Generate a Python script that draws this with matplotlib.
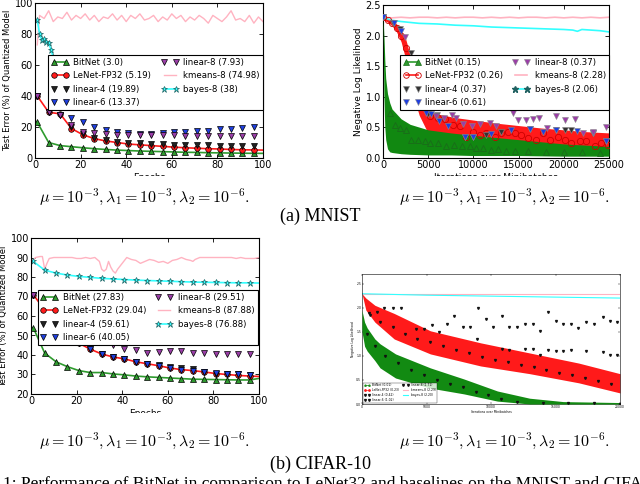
import matplotlib

matplotlib.use("Agg")
import matplotlib.pyplot as plt
from matplotlib.patches import Rectangle

# ---------------- MNIST, test error vs epochs ----------------
mn_epochs = [1, 6, 11, 16, 21, 26, 31, 36, 41, 46, 51, 56, 61, 66, 71, 76, 81, 86, 91, 96, 100]
mn_bitnet = [23, 10, 8, 7.3, 6.6, 6, 5.5, 5.1, 4.8, 4.5, 4.3, 4.1, 3.9, 3.7, 3.6, 3.4, 3.3, 3.2, 3.1, 3.0, 3.0]
mn_lenet = [40, 29.5, 28.5, 19, 15, 12.5, 11, 10, 9, 8.5, 8, 7.5, 7, 6.6, 6.3, 6, 5.8, 5.5, 5.3, 5.2, 5.1]
mn_lin4 = [40, 30, 28, 20, 15.5, 13, 11.5, 10.5, 10, 9.5, 9, 9, 8.5, 8.5, 8.5, 8.5, 8, 8, 8, 8]
mn_lin6 = [40, 30, 28, 25.5, 23, 20, 18, 16.5, 16, 15.8, 15.5, 16, 16.8, 17, 17.5, 17.5, 18.5, 18.5, 19.5, 20.3]
mn_lin8 = [40, 30, 28, 21, 17, 16, 15.5, 15, 15, 15, 14.8, 14.8, 14.8, 14.5, 14.5, 14.5, 14.5, 14.2, 14, 14]
mn_bayes_ep = [1, 2, 3, 4, 5, 6, 7, 8, 9, 11, 16, 21, 26, 31, 41, 51, 61, 71, 81, 86, 91, 96, 100]
mn_bayes = [89, 80, 76, 77, 75, 74, 70, 65, 62, 58, 50, 45, 42, 40, 38, 37, 36, 35.5, 35, 34, 33.5, 33, 33]
mn_km_ep = [1, 2, 4, 6, 8, 10, 12, 14, 16, 18, 20, 22, 24, 26, 28, 30, 32, 34, 36, 38, 40, 42, 44, 46, 48,
            50, 52, 54, 56, 58, 60, 62, 64, 66, 68, 70, 72, 74, 76, 78, 80, 82, 84, 86, 88, 90, 92, 94, 96, 98, 100]
mn_km = [73, 92, 90, 95, 88, 91, 90, 94, 89, 92, 90, 93, 89, 92, 88, 91, 90, 93, 89, 92, 88, 92, 90, 93, 89,
         90, 92, 88, 91, 89, 93, 90, 92, 88, 91, 89, 92, 90, 87, 92, 90, 88, 91, 95, 89, 90, 88, 92, 87, 91, 88]
mn_labels = ["BitNet (3.0)", "LeNet-FP32 (5.19)", "linear-4 (19.89)", "linear-6 (13.37)",
             "linear-8 (7.93)", "kmeans-8 (74.98)", "bayes-8 (38)"]

# ---------------- MNIST, NLL vs iterations ----------------
nl_red_it = [0, 500, 1000, 1500, 2000, 2500, 3000, 3500, 4000, 5000, 6000, 8000, 10000, 12500, 15000, 17500, 20000, 22500, 25000]
nl_red_hi = [2.32, 2.29, 2.25, 2.19, 2.1, 1.95, 1.68, 1.38, 1.1, 0.78, 0.72, 0.66, 0.62, 0.57, 0.53, 0.49, 0.46, 0.43, 0.41]
nl_red_lo = [2.26, 2.22, 2.16, 2.06, 1.9, 1.62, 1.28, 0.95, 0.7, 0.4, 0.3, 0.25, 0.22, 0.2, 0.18, 0.17, 0.16, 0.15, 0.15]
nl_grn_it = [0, 100, 200, 300, 500, 750, 1000, 1500, 2000, 3000, 5000, 7500, 10000, 15000, 20000, 25000]
nl_grn_hi = [2.3, 2.0, 1.6, 1.3, 1.05, 0.9, 0.8, 0.72, 0.64, 0.55, 0.46, 0.41, 0.37, 0.3, 0.23, 0.19]
nl_grn_lo = [2.3, 1.0, 0.5, 0.3, 0.15, 0.1, 0.09, 0.08, 0.07, 0.06, 0.05, 0.05, 0.04, 0.04, 0.03, 0.03]
nl_bit_it = [740, 1290, 1840, 2580, 3130, 3870, 4610, 5160, 6080, 7000, 7900, 8700, 9600, 10300, 11100, 12000,
             12700, 13600, 14600, 16000, 18000, 20000, 22000, 24000]
nl_bit = [0.73, 0.54, 0.49, 0.46, 0.3, 0.3, 0.27, 0.25, 0.24, 0.19, 0.21, 0.19, 0.19, 0.16, 0.16, 0.13,
          0.14, 0.12, 0.12, 0.11, 0.1, 0.09, 0.09, 0.08]
nl_len_it = [0, 500, 1000, 1500, 2000, 2500, 3000, 3500, 4000, 5160, 6080, 6820, 7740, 8480, 9220, 9960, 10700,
             11430, 12350, 13090, 13830, 14560, 15300, 16040, 16960, 17700, 18440, 19360, 20100, 20830, 21750,
             22490, 23420, 24150, 24890]
nl_len = [2.3, 2.26, 2.2, 2.13, 2.0, 1.8, 1.48, 1.15, 0.9, 0.68, 0.65, 0.63, 0.54, 0.52, 0.35, 0.43, 0.38,
          0.41, 0.35, 0.41, 0.43, 0.41, 0.38, 0.33, 0.3, 0.41, 0.3, 0.35, 0.3, 0.24, 0.27, 0.27, 0.19, 0.24, 0.22]
nl_l4_it = [0, 1100, 1840, 3130, 5000, 6000, 9040, 9960, 11430, 13090, 16220, 19170, 20100, 20830, 23230, 24700]
nl_l4 = [2.3, 2.2, 2.1, 1.71, 0.72, 0.7, 0.34, 0.35, 0.38, 0.42, 0.48, 0.46, 0.46, 0.45, 0.41, 0.27]
nl_l6_it = [0, 1200, 2000, 4800, 5300, 6200, 7200, 9040, 9960, 12000, 14200, 16220, 17700, 19170, 21500, 23230, 24700]
nl_l6 = [2.3, 2.21, 2.08, 0.73, 0.72, 0.6, 0.52, 0.34, 0.35, 0.4, 0.45, 0.48, 0.42, 0.46, 0.44, 0.41, 0.28]
nl_l8_it = [2400, 5900, 6800, 7600, 8100, 8900, 9900, 10700, 11800, 12500, 14400, 14900, 15800, 16600, 17300,
            18100, 19100, 20100, 21200, 22100, 23200, 24700]
nl_l8 = [1.98, 0.68, 0.66, 0.71, 0.65, 0.56, 0.52, 0.55, 0.58, 0.52, 0.73, 0.62, 0.62, 0.64, 0.66, 0.49,
         0.69, 0.62, 0.64, 0.41, 0.42, 0.5]
nl_km_it = [0, 1000, 2000, 3000, 4000, 5000, 6000, 7000, 8000, 9000, 10000, 11000, 12000, 13000, 14000, 15000,
            16000, 17000, 18000, 19000, 20000, 21000, 22000, 23000, 24000, 25000]
nl_km = [2.3, 2.29, 2.3, 2.29, 2.3, 2.3, 2.29, 2.3, 2.29, 2.3, 2.3, 2.29, 2.3, 2.29, 2.3, 2.29, 2.3, 2.3,
         2.29, 2.3, 2.29, 2.3, 2.29, 2.3, 2.29, 2.3]
nl_by_it = [0, 1000, 2000, 4000, 6000, 8000, 10000, 12000, 14000, 16000, 18000, 20000, 21000, 21500, 22000, 24000, 25000]
nl_by = [2.29, 2.25, 2.23, 2.2, 2.19, 2.17, 2.16, 2.14, 2.13, 2.12, 2.11, 2.1, 2.09, 2.07, 2.1, 2.08, 2.06]
nl_labels = ["BitNet (0.15)", "LeNet-FP32 (0.26)", "linear-4 (0.37)", "linear-6 (0.61)",
             "linear-8 (0.37)", "kmeans-8 (2.28)", "bayes-8 (2.06)"]

# ---------------- CIFAR-10, test error vs epochs ----------------
cf_epochs = mn_epochs
cf_bitnet = [54, 41, 36.5, 34, 32, 31, 31, 30.3, 29.8, 29.2, 28.8, 28.5, 28.2, 27.9, 27.6, 27.5, 27.4, 27.3, 27.2, 27.2, 28]
cf_lenet = [71, 63, 57, 51, 46, 43, 40.5, 39, 38, 36.5, 35.5, 34.5, 33.3, 32.5, 32, 31.3, 30.5, 30, 29.5, 29.2, 29]
cf_lin4 = [71, 63, 57, 51, 46, 43, 40.5, 39, 38, 36.5, 35.5, 35, 34, 33.5, 32.8, 31.5, 30.5, 30, 30, 29.8]
cf_lin6 = [71, 63, 57, 51, 46, 43, 40.5, 39, 38, 36.5, 35.5, 34.5, 33.5, 32.5, 32, 31.3, 30.8, 30.3, 30, 29.6]
cf_lin8 = [71, 63, 57, 52, 49, 47.5, 47, 45, 43, 42.5, 41, 41.5, 42, 42, 41, 41, 40.5, 40.5, 40.5, 40.5]
cf_bayes = [88, 83.5, 82, 81, 80.3, 79.8, 79.3, 79, 78.7, 78.4, 78.2, 78, 77.8, 77.6, 77.4, 77.3, 77.2, 77.1, 77, 77, 76.9]
cf_km_ep = [1, 2, 4, 5, 6, 7, 8, 10, 12, 14, 16, 18, 20, 22, 24, 26, 28, 30, 31, 32, 33, 34, 35, 36, 37, 38,
            40, 42, 44, 46, 48, 50, 52, 54, 56, 58, 60, 62, 64, 66, 68, 70, 71, 72, 74, 76, 78, 80, 82, 84, 86,
            88, 90, 92, 94, 96, 98, 100]
cf_km = [89, 90, 90.5, 90.5, 84, 87, 89.5, 90, 90, 90, 90, 90, 89.5, 89.5, 90, 89.5, 90, 88, 84, 83, 84, 88,
         85, 83, 82, 84, 87, 90, 89, 88.5, 87, 88, 89, 88.5, 87.5, 88, 87, 88.5, 89, 90, 89, 88.5, 88, 89, 90,
         90, 90, 90, 90, 90, 90, 90, 89.5, 90, 89.5, 89.5, 89.5, 90]
cf_labels = ["BitNet (27.83)", "LeNet-FP32 (29.04)", "linear-4 (59.61)", "linear-6 (40.05)",
             "linear-8 (29.51)", "kmeans-8 (87.88)", "bayes-8 (76.88)"]

# ---------------- CIFAR-10, NLL vs iterations (small panel) ----------------
cn_red_it = [0, 300, 1000, 2500, 5300, 9200, 13000, 16800, 20000]
cn_red_hi = [2.29, 2.2, 2.05, 1.88, 1.52, 1.27, 1.06, 0.85, 0.63]
cn_red_lo = [2.29, 1.95, 1.7, 1.35, 1.04, 0.79, 0.63, 0.44, 0.23]
cn_grn_it = [0, 200, 400, 1000, 1400, 2600, 5300, 7900, 10500, 13000, 15600, 20000]
cn_grn_hi = [1.94, 1.7, 1.58, 1.35, 1.25, 1.04, 0.75, 0.52, 0.27, 0.12, 0.05, 0.03]
cn_grn_lo = [1.5, 1.2, 1.1, 0.9, 0.75, 0.54, 0.33, 0.21, 0.06, 0.0, 0.0, 0.0]
cn_km_it = [0, 20000]
cn_km = [2.29, 2.29]
cn_by_it = [0, 5000, 10000, 15000, 20000]
cn_by = [2.29, 2.26, 2.24, 2.22, 2.2]
cn_up_it = [570, 1140, 1730, 2430, 3000, 4190, 4800, 5400, 6000, 6570, 7150, 7800, 8370, 8970, 9590, 10180,
            10830, 11420, 12040, 12640, 13230, 13800, 14400, 15040, 15610, 16200, 16770, 17370, 18010, 18660,
            19220, 19790]
cn_up = [1.88, 1.92, 1.99, 1.99, 2.0, 1.56, 1.56, 1.65, 1.49, 1.66, 1.83, 1.59, 1.6, 1.99, 1.76, 1.6, 1.83,
         1.59, 1.59, 1.67, 1.66, 1.51, 1.92, 1.73, 1.66, 1.66, 1.58, 1.71, 1.66, 1.81, 1.73, 1.71]
cn_mid_it = [8890, 10830, 11420, 12640, 13230, 13800, 14400, 15040, 15610, 16200, 17370, 18660, 19220, 19790]
cn_mid = [1.35, 1.15, 1.13, 1.14, 1.15, 1.02, 1.12, 1.1, 1.11, 1.12, 1.1, 1.09, 1.02, 1.02]
cn_rd_it = [600, 1400, 2400, 3300, 4300, 5300, 6300, 7300, 8300, 9300, 10300, 11300, 12300, 13300, 14300,
            15300, 16300, 17300, 18300, 19300]
cn_rd = [1.85, 1.7, 1.6, 1.45, 1.35, 1.28, 1.2, 1.12, 1.05, 0.98, 0.92, 0.87, 0.82, 0.76, 0.7, 0.65, 0.6,
         0.53, 0.48, 0.42]
cn_gd_it = [400, 1000, 1800, 2800, 3800, 4800, 5800, 6800, 7800, 8800, 9800, 10800, 12000, 14000, 16000, 18000, 20000]
cn_gd = [1.45, 1.2, 1.0, 0.85, 0.7, 0.6, 0.5, 0.42, 0.35, 0.25, 0.18, 0.1, 0.05, 0.03, 0.02, 0.02, 0.01]
cn_labels = ["BitNet (0.01)", "LeNet-FP32 (0.23)", "linear-4 (0.42)", "linear-6 (1.02)",
             "linear-8 (1.71)", "kmeans-8 (2.29)", "bayes-8 (2.20)"]

C_GREEN = "#2e9b2e"
C_RED = "#ff1a1a"
C_LIN8 = "#9b3ea8"
C_LIN6 = "#1f3fe0"
C_PINK = "#ffb3c1"
C_CYAN = "#33ffff"

plt.rcParams["mathtext.fontset"] = "cm"
plt.rcParams["font.family"] = "DejaVu Sans"

fig = plt.figure(figsize=(6.4, 4.84), dpi=100)


def px_axes(x0, y0, x1, y1):
    return fig.add_axes([x0 / 640, 1 - y1 / 484, (x1 - x0) / 640, (y1 - y0) / 484])


def style(ax, fs=7):
    ax.tick_params(direction="in", top=True, right=True, labelsize=fs, length=3, width=0.6, pad=1.5)
    for s in ax.spines.values():
        s.set_linewidth(0.8)


def add_legend(ax, handles, labels, box, z=5):
    leg = ax.legend(handles, labels, ncol=2, numpoints=2, fontsize=6.2,
                    loc="upper left", bbox_to_anchor=box, mode="expand", borderaxespad=0,
                    frameon=True, fancybox=False, handlelength=2.0, handletextpad=0.6,
                    labelspacing=0.5, columnspacing=0.8, borderpad=0.35)
    leg.get_frame().set_edgecolor("k")
    leg.get_frame().set_linewidth(0.8)
    leg.get_frame().set_alpha(1)
    leg.set_zorder(z)


def epoch_panel(ax, ep, bit, len_, l4, l6, l8, km_ep, km, by_ep, by, labels, ylim, yticks, legbox):
    mk = dict(markersize=4, markeredgecolor="k", markeredgewidth=0.5)
    h_bit, = ax.plot(ep, bit, color=C_GREEN, lw=1.2, marker="^", markevery=list(range(20)),
                     markerfacecolor=C_GREEN, **mk)
    h_len, = ax.plot(ep, len_, color=C_RED, lw=1.2, marker="o", markevery=list(range(20)),
                     markerfacecolor=C_RED, **mk)
    h4, = ax.plot(ep[:20], l4, ls="none", marker="v", color="#222222", markerfacecolor="#222222", **mk)
    h6, = ax.plot(ep[:20], l6, ls="none", marker="v", color=C_LIN6, markerfacecolor=C_LIN6, **mk)
    h8, = ax.plot(ep[:20], l8, ls="none", marker="v", color=C_LIN8, markerfacecolor=C_LIN8, **mk)
    hk, = ax.plot(km_ep, km, color=C_PINK, lw=1.0)
    hb, = ax.plot(by_ep, by, color=C_CYAN, lw=1.2, marker="*", markevery=list(range(0, len(by_ep) - 1)),
                  markerfacecolor=C_CYAN, markersize=4.5, markeredgecolor="#206060", markeredgewidth=0.5)
    ax.set_xlim(0, 100)
    ax.set_ylim(*ylim)
    ax.set_yticks(yticks)
    ax.set_xticks([0, 20, 40, 60, 80, 100])
    ax.set_xlabel("Epochs", fontsize=6.5, labelpad=2)
    ax.set_ylabel("Test Error (%) of Quantized Model", fontsize=6, labelpad=2)
    style(ax)
    add_legend(ax, [h_bit, h_len, h4, h6, h8, hk, hb], labels, legbox)


# top-left
ax1 = px_axes(35, 3, 263, 158)
epoch_panel(ax1, mn_epochs, mn_bitnet, mn_lenet, mn_lin4, mn_lin6, mn_lin8, mn_km_ep, mn_km,
            mn_bayes_ep, mn_bayes, mn_labels, (0, 100), [0, 20, 40, 60, 80, 100],
            (0.057, 0.335, 0.943, 0.33))

# bottom-left
ax3 = px_axes(31, 238, 259, 394)
epoch_panel(ax3, cf_epochs, cf_bitnet, cf_lenet, cf_lin4, cf_lin6, cf_lin8, cf_km_ep, cf_km,
            cf_epochs, cf_bayes, cf_labels, (20, 100), [20, 30, 40, 50, 60, 70, 80, 90, 100],
            (0.03, 0.37, 0.965, 0.297))

# top-right
ax2 = px_axes(383, 5, 609, 158)
ax2.fill_between(nl_red_it, nl_red_lo, nl_red_hi, color=C_RED, lw=0, zorder=2)
ax2.fill_between(nl_grn_it, nl_grn_lo, nl_grn_hi, color="#118811", lw=0, zorder=3)
h_bit, = ax2.plot(nl_bit_it, nl_bit, ls="none", marker="^", markersize=4, markerfacecolor="none",
                  markeredgecolor="#1a6b1a", markeredgewidth=0.6, zorder=4)
h_len, = ax2.plot(nl_len_it, nl_len, ls="none", marker="o", markersize=4.5, markerfacecolor="none",
                  markeredgecolor="#cc0000", markeredgewidth=0.6, zorder=4)
h4, = ax2.plot(nl_l4_it, nl_l4, ls="none", marker="v", markersize=4, color="#333333",
               markeredgecolor="#888888", markeredgewidth=0.4, zorder=4)
h6, = ax2.plot(nl_l6_it, nl_l6, ls="none", marker="v", markersize=4, color=C_LIN6,
               markeredgecolor="#888888", markeredgewidth=0.4, zorder=4)
h8, = ax2.plot(nl_l8_it, nl_l8, ls="none", marker="v", markersize=4, color=C_LIN8,
               markeredgecolor="#888888", markeredgewidth=0.4, zorder=4)
hk, = ax2.plot(nl_km_it, nl_km, color=C_PINK, lw=1.2, zorder=2)
hb, = ax2.plot(nl_by_it, nl_by, color=C_CYAN, lw=1.2, zorder=2)
ax2.set_xlim(0, 25000)
ax2.set_ylim(0, 2.5)
ax2.set_xticks([0, 5000, 10000, 15000, 20000, 25000])
ax2.set_yticks([0.0, 0.5, 1.0, 1.5, 2.0, 2.5])
ax2.set_yticklabels(["0.0", "0.5", "1.0", "1.5", "2.0", "2.5"])
ax2.set_xlabel("Iterations over Minibatches", fontsize=6.5, labelpad=2)
ax2.set_ylabel("Negative Log Likelihood", fontsize=6.5, labelpad=2)
style(ax2)
hl_bit, = ax2.plot([], [], color=C_GREEN, lw=1.2, marker="^", markersize=4, markerfacecolor=C_GREEN,
                   markeredgecolor="#1a6b1a", markeredgewidth=0.5)
hl_len, = ax2.plot([], [], color=C_RED, lw=1.2, marker="o", markersize=4, markerfacecolor="none",
                   markeredgecolor="#cc0000", markeredgewidth=0.6)
hl_by, = ax2.plot([], [], color=C_CYAN, lw=1.2, marker="*", markersize=4.5, markerfacecolor="#206060",
                  markeredgecolor="#206060")
add_legend(ax2, [hl_bit, hl_len, h4, h6, h8, hk, hl_by], nl_labels, (0.075, 0.333, 0.925, 0.34), z=6)

# bottom-right (small, low-resolution panel)
ax4 = px_axes(362, 274, 620, 404)
ax4.fill_between(cn_red_it, cn_red_lo, cn_red_hi, color=C_RED, lw=0, zorder=2)
ax4.fill_between(cn_grn_it, cn_grn_lo, cn_grn_hi, color="#128a12", lw=0, zorder=3)
hk4, = ax4.plot(cn_km_it, cn_km, color=C_PINK, lw=0.8)
hb4, = ax4.plot(cn_by_it, cn_by, color=C_CYAN, lw=0.8)
dot = dict(ls="none", marker="v", markersize=1.4, color="#111111", zorder=4)
hu, = ax4.plot(cn_up_it, cn_up, **dot)
hm, = ax4.plot(cn_mid_it, cn_mid, **dot)
hr, = ax4.plot(cn_rd_it, cn_rd, **dot)
hg, = ax4.plot(cn_gd_it, cn_gd, **dot)
ax4.set_xlim(0, 20000)
ax4.set_ylim(0, 2.7)
ax4.set_xticks([0, 5000, 10000, 15000, 20000])
ax4.set_yticks([0.0, 0.5, 1.0, 1.5, 2.0, 2.5])
ax4.set_xlabel("Iterations over Minibatches", fontsize=2.2, labelpad=0.5)
ax4.set_ylabel("Negative Log Likelihood", fontsize=2.2, labelpad=0.5)
ax4.tick_params(direction="in", top=True, right=True, labelsize=2.2, length=1.5, width=0.3, pad=0.6)
for s in ax4.spines.values():
    s.set_linewidth(0.4)
hb_s, = ax4.plot([], [], color="#128a12", lw=0.5, marker="^", markersize=1)
hl_s, = ax4.plot([], [], color=C_RED, lw=0.5, marker="o", markersize=1)
leg4 = ax4.legend([hb_s, hl_s, hr, hm, hu, hk4, hb4], cn_labels, ncol=2, numpoints=2, fontsize=2.2,
                  loc="lower left", borderaxespad=0.3, fancybox=False, handlelength=2,
                  labelspacing=0.3, columnspacing=1.0, borderpad=0.3)
leg4.get_frame().set_edgecolor("k")
leg4.get_frame().set_linewidth(0.3)

# clipped axis labels as in the source page
fig.add_artist(Rectangle((0, 1 - 188 / 484), 1, 12 / 484, transform=fig.transFigure,
                         facecolor="white", edgecolor="none", zorder=20))
fig.add_artist(Rectangle((0, 1 - 428 / 484), 330 / 640, 15 / 484, transform=fig.transFigure,
                         facecolor="white", edgecolor="none", zorder=20))

# captions
cap = r"$\mu = 10^{-3}, \lambda_1 = 10^{-3}, \lambda_2 = 10^{-6}.$"
fig.text(145 / 640, 1 - 197 / 484, cap, ha="center", va="center", fontsize=11.5, zorder=30)
fig.text(505 / 640, 1 - 197 / 484, cap, ha="center", va="center", fontsize=11.5, zorder=30)
fig.text(320 / 640, 1 - 216 / 484, "(a) MNIST", ha="center", va="center", fontsize=13,
         family="Liberation Serif", zorder=30)
fig.text(145 / 640, 1 - 441 / 484, cap, ha="center", va="center", fontsize=11.5)
fig.text(505 / 640, 1 - 441 / 484, cap, ha="center", va="center", fontsize=11.5)
fig.text(320 / 640, 1 - 464 / 484, "(b) CIFAR-10", ha="center", va="center", fontsize=13,
         family="Liberation Serif")
fig.text(3 / 640, 1 - 488 / 484, "1: Performance of BitNet in comparison to LeNet32 and baselines on the MNIST and CIFAR-10",
         ha="left", va="baseline", fontsize=12.5, family="Liberation Serif")

fig.savefig("out.png", dpi=100)
